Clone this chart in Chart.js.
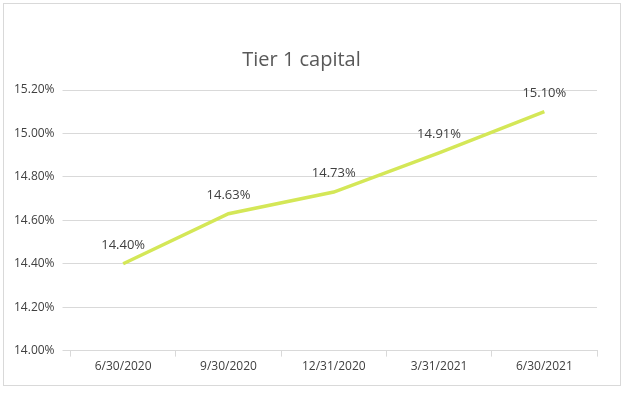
<!DOCTYPE html>
<html><head><script src="https://cdn.jsdelivr.net/npm/chart.js"></script>
<style>body{margin:0;background:#fff}#box{position:absolute;left:3px;top:3px;width:618px;height:383px;border:1px solid #d9d9d9;box-sizing:border-box}</style>
</head><body><div id="box"><canvas id="c"></canvas></div>
<script>
const categories=["6/30/2020","9/30/2020","12/31/2020","3/31/2021","6/30/2021"];
const values=[14.40,14.63,14.73,14.91,15.10];
const yTicks=[14.0,14.2,14.4,14.6,14.8,15.0,15.2];
const labelPlugin={id:'lbl',afterDatasetsDraw(ch){const ctx=ch.ctx;const m=ch.getDatasetMeta(0);ctx.save();ctx.font='13px "Open Sans"';ctx.fillStyle='#404040';ctx.textAlign='center';ctx.textBaseline='bottom';m.data.forEach((p,i)=>ctx.fillText(values[i].toFixed(2)+'%',p.x,p.y-12));ctx.restore();}};
new Chart(document.getElementById('c'),{type:'line',data:{labels:categories,datasets:[{data:values,borderColor:'#d4e757',borderWidth:3.5,pointRadius:0,tension:0}]},
options:{responsive:true,maintainAspectRatio:false,animation:false,layout:{padding:{left:2,right:23,top:16,bottom:8}},
plugins:{legend:{display:false},tooltip:{enabled:false},title:{display:true,text:'Tier 1 capital',color:'#595959',font:{family:'Open Sans',size:20,weight:'normal'},padding:{top:28,bottom:18}}},
scales:{x:{offset:true,grid:{display:true,drawOnChartArea:false,offset:true,color:'#d9d9d9',tickLength:6},border:{color:'#d9d9d9'},ticks:{color:'#404040',font:{family:'Open Sans',size:12}}},
y:{min:14.0,max:15.2,afterBuildTicks(a){a.ticks=yTicks.map(v=>({value:v}));},grid:{color:'#d9d9d9'},border:{display:false},ticks:{color:'#404040',padding:8,font:{family:'Open Sans',size:12},callback:v=>v.toFixed(2)+'%'}}}},
plugins:[labelPlugin]});
</script></body></html>
